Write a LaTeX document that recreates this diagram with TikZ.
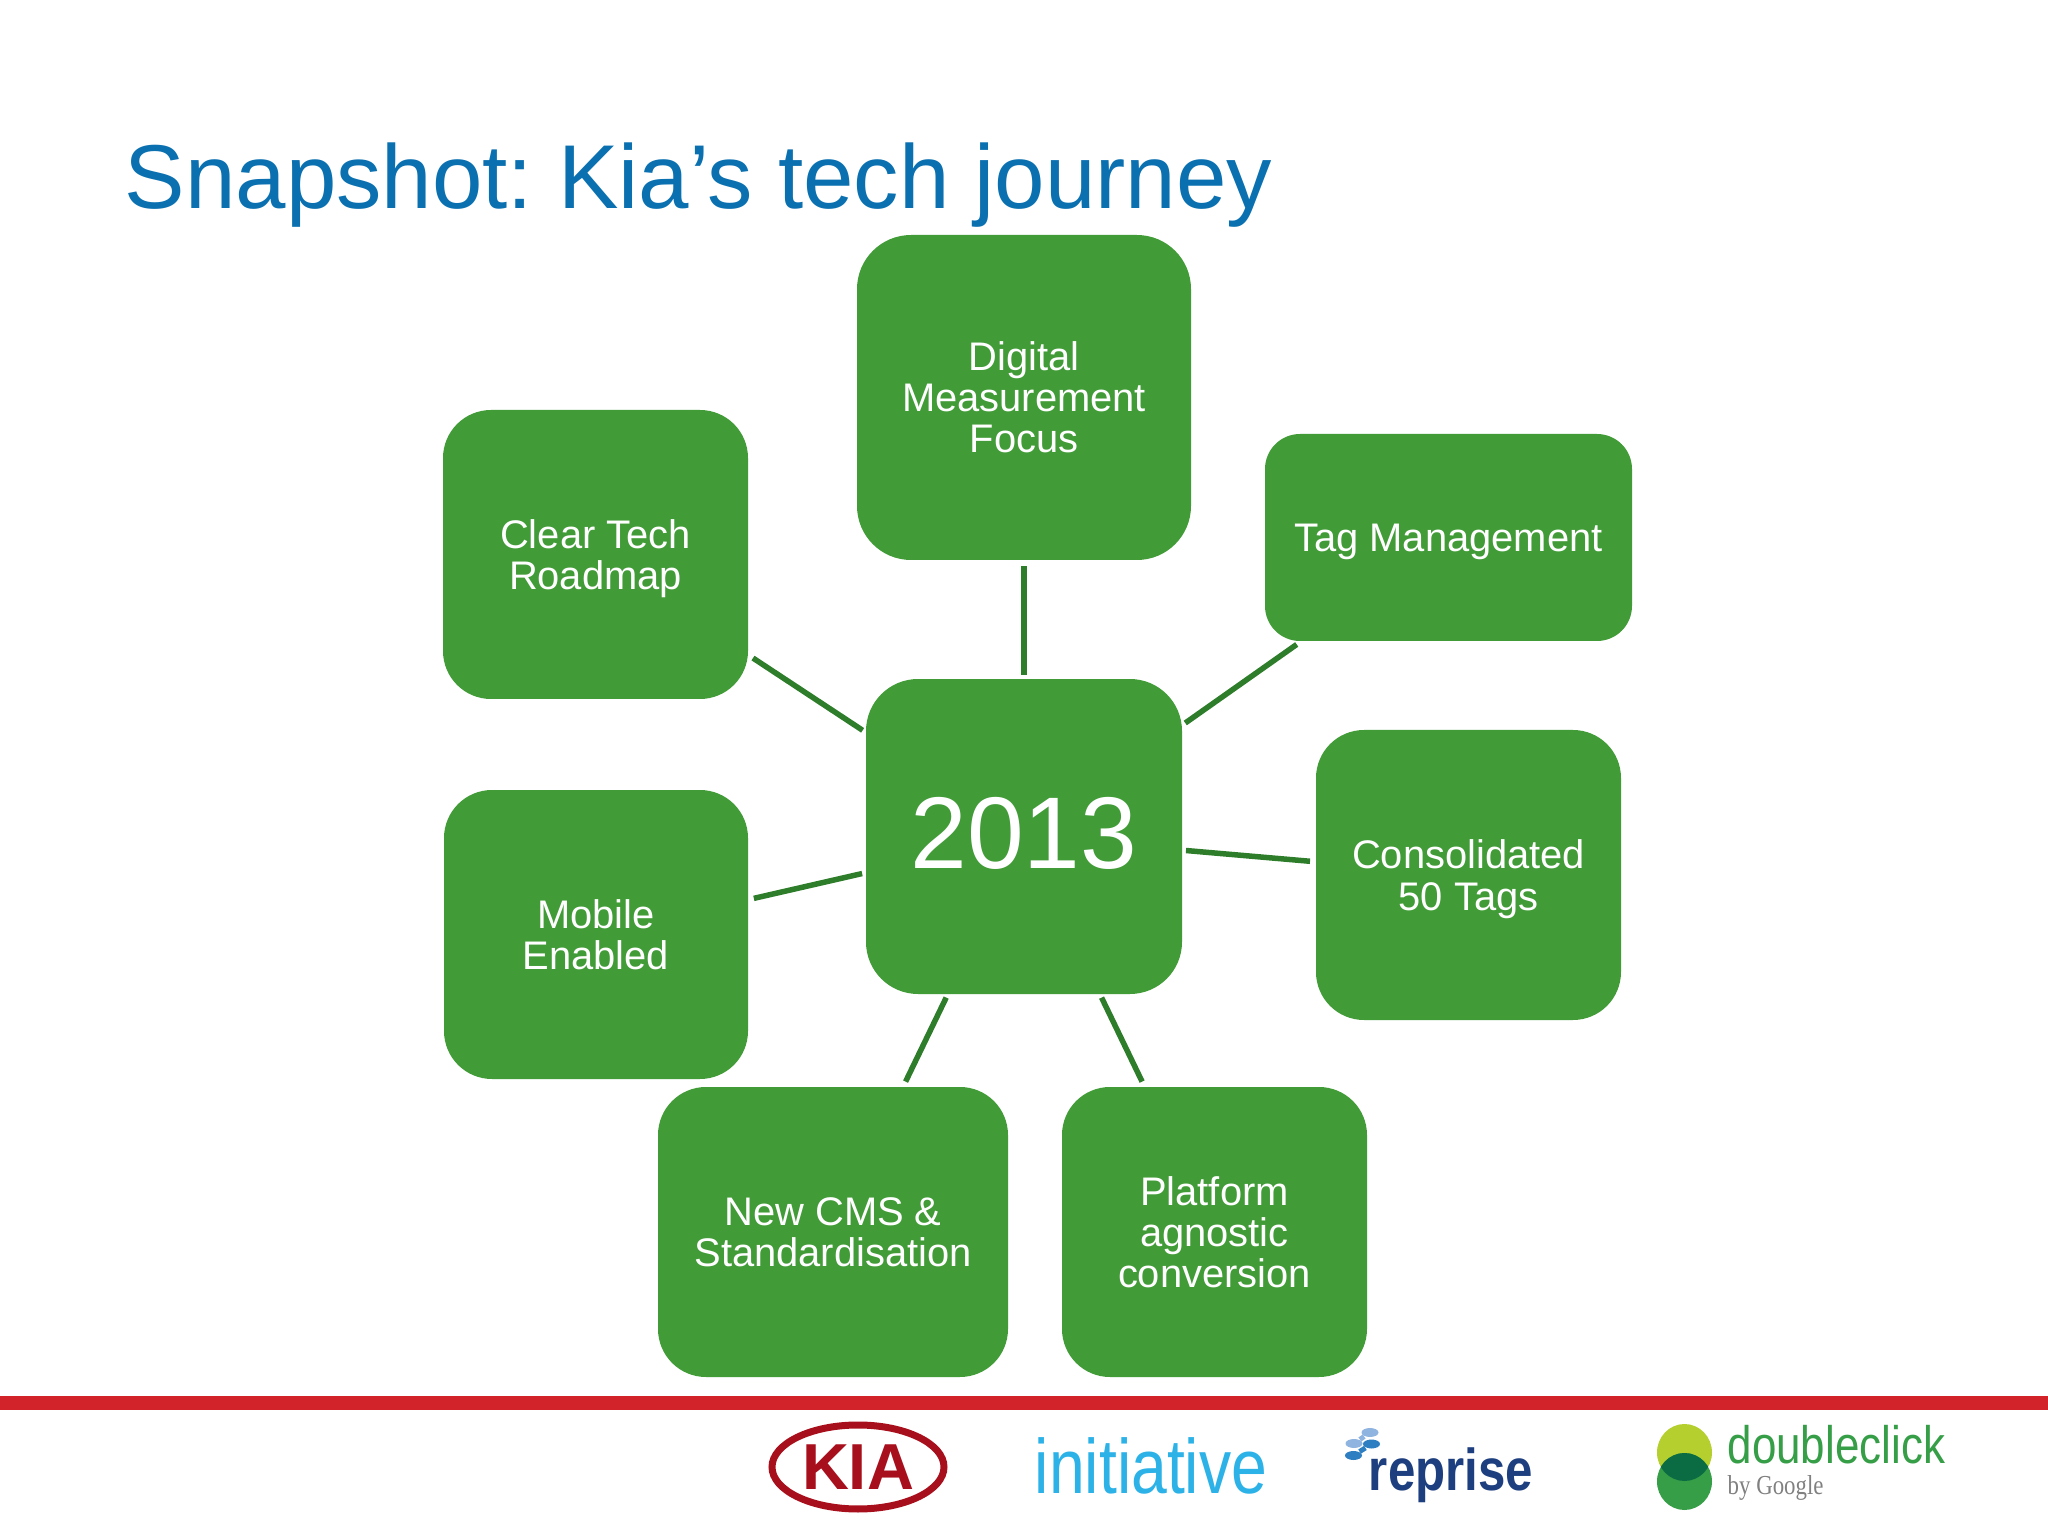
\documentclass[tikz,border=0pt]{standalone}
\usepackage{fontspec}
\setmainfont{Liberation Sans}
\newfontfamily\logoserif{Liberation Serif}
\usetikzlibrary{shapes.geometric}
\definecolor{boxgreen}{HTML}{419B37}
\definecolor{linkgreen}{HTML}{2E7D2B}
\definecolor{titleblue}{HTML}{0A70B0}
\definecolor{barred}{HTML}{D2232A}
\definecolor{kiared}{HTML}{A80F1C}
\definecolor{initblue}{HTML}{2DB2E8}
\definecolor{repnavy}{HTML}{1D3F7F}
\definecolor{repblue}{HTML}{2E7EC2}
\definecolor{replight}{HTML}{8FB4E0}
\definecolor{dclime}{HTML}{B5CF2F}
\definecolor{dcgreen}{HTML}{359E47}
\definecolor{dcdark}{HTML}{0B6B42}
\frenchspacing

\begin{document}
\begin{tikzpicture}[
    box/.style={rectangle, fill=boxgreen, text=white, align=center, inner sep=0pt, outer sep=0pt,
                font=\fontsize{11.35}{11.7}\selectfont},
    link/.style={draw=linkgreen, line width=0.055cm, shorten >=0.06cm, shorten <=0.04cm},
    every edge/.style={link},
    pill/.style={ellipse, inner sep=0pt, minimum width=0.17cm, minimum height=0.09cm}]

\useasboundingbox (0,0) rectangle (20.48,-15.36);

\node[anchor=base west, text=titleblue, inner sep=0pt, font=\fontsize{25.8}{28}\selectfont] (title) at (1.24,-2.09) {Snapshot: Kia’s tech journey};

\node[box, rounded corners=0.52cm, minimum width=3.16cm, minimum height=3.15cm, text depth=0.08cm, font=\fontsize{29}{31}\selectfont] (year) at (10.24,-8.365) {2013};
\node[box, rounded corners=0.54cm, minimum width=3.34cm, minimum height=3.25cm] (digital) at (10.24,-3.975) {Digital\\Measurement\\Focus};
\node[box, rounded corners=0.35cm, minimum width=3.67cm, minimum height=2.07cm, text depth=0pt] (tag) at (14.485,-5.375) {Tag Management};
\node[box, rounded corners=0.48cm, minimum width=3.05cm, minimum height=2.90cm, text depth=0pt] (consolidated) at (14.685,-8.75) {Consolidated\\50 Tags};
\node[box, rounded corners=0.48cm, minimum width=3.05cm, minimum height=2.90cm] (platform) at (12.145,-12.32) {Platform\\agnostic\\conversion};
\node[box, rounded corners=0.48cm, minimum width=3.50cm, minimum height=2.90cm] (cms) at (8.33,-12.32) {New CMS \&\\Standardisation};
\node[box, rounded corners=0.48cm, minimum width=3.04cm, minimum height=2.89cm] (mobile) at (5.96,-9.345) {Mobile\\Enabled};
\node[box, rounded corners=0.48cm, minimum width=3.05cm, minimum height=2.89cm, text depth=0pt] (roadmap) at (5.955,-5.545) {Clear Tech\\Roadmap};

\path (year) edge (digital)
             edge (tag)
             edge (consolidated)
             edge (platform)
             edge (cms)
             edge (mobile)
             edge (roadmap);

\fill[barred] (0,-13.96) rectangle (20.48,-14.10);

\draw[kiared, line width=0.07cm] (8.58,-14.67) ellipse (0.86 and 0.42);
\node[text=kiared, inner sep=0pt, font=\bfseries\fontsize{18.5}{20}\selectfont] (kia) at (8.58,-14.67) {KIA};

\node[text=initblue, inner sep=0pt, anchor=base, font=\fontsize{18.3}{20}\selectfont] (initiative) at (11.51,-14.93) {\scalebox{1}[1.2]{initiative}};

\node[pill, fill=replight] (repa) at (13.70,-14.325) {};
\node[pill, fill=replight] (repb) at (13.54,-14.435) {};
\node[pill, fill=repblue] (repc) at (13.715,-14.44) {};
\node[pill, fill=repblue] (repd) at (13.535,-14.555) {};
\draw[replight, line width=0.05cm] (repa) -- (repb);
\draw[repblue, line width=0.05cm] (repc) -- (repd);
\node[text=repnavy, inner sep=0pt, anchor=base, font=\bfseries\fontsize{14}{16}\selectfont] (reprise) at (14.51,-14.90) {\scalebox{1}[1.2]{reprise}};

\fill[dclime] (16.845,-14.525) ellipse (0.275 and 0.285);
\fill[dcgreen] (16.845,-14.815) ellipse (0.275 and 0.285);
\begin{scope}
\clip (16.845,-14.525) ellipse (0.275 and 0.285);
\fill[dcdark] (16.845,-14.815) ellipse (0.275 and 0.285);
\end{scope}
\node[text=dcgreen, inner sep=0pt, anchor=base west, font=\fontsize{12.5}{14}\selectfont] (doubleclick) at (17.27,-14.63) {\scalebox{1}[1.2]{doubleclick}};
\node[text=gray, inner sep=0pt, anchor=base west, font=\logoserif\fontsize{6.5}{8}\selectfont] (google) at (17.27,-14.94) {\scalebox{1}[1.2]{by Google}};

\end{tikzpicture}
\end{document}
